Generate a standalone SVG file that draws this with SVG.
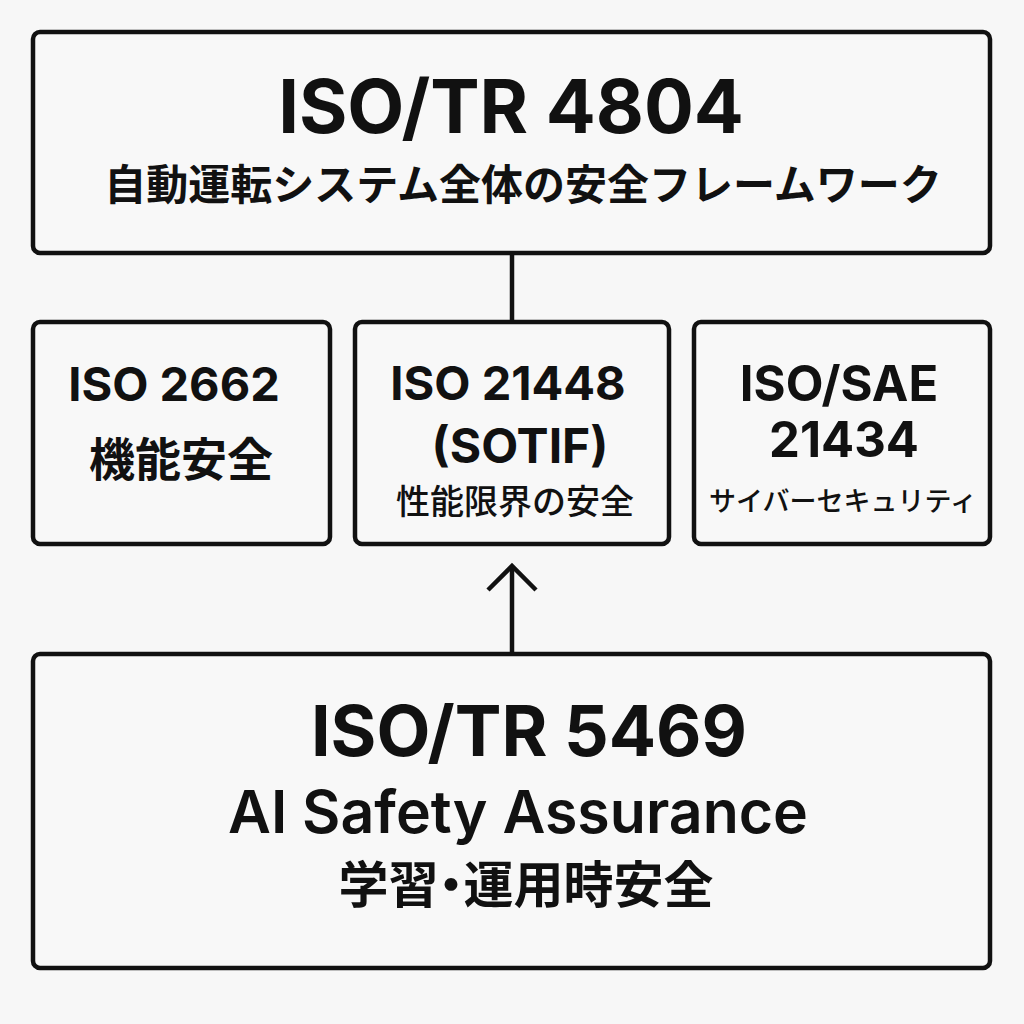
<svg xmlns="http://www.w3.org/2000/svg" width="1024" height="1024" viewBox="0 0 1024 1024">
<style>
.box{fill:#f8f8f8;stroke:#111;stroke-width:4.5}
.lat{font-family:Inter,"Liberation Sans","Noto Sans CJK JP",sans-serif;fill:#111;text-anchor:middle}
.jp{font-family:"Noto Sans CJK JP",sans-serif;fill:#111;text-anchor:middle}
.conn{stroke:#111;stroke-width:4.5;fill:none}
</style>
<rect width="1024" height="1024" fill="#f7f7f7"/>
<g id="connectors">
<line class="conn" x1="512" y1="253" x2="512" y2="322"/>
<line class="conn" x1="512" y1="654" x2="512" y2="566"/>
<polyline class="conn" points="488,590 512,566 536,590" stroke-linejoin="miter"/>
</g>
<g id="iso-tr-4804">
<rect class="box" x="33" y="32" width="957" height="221" rx="7"/>
<text class="lat" x="511" y="133" font-size="74" font-weight="700">ISO/TR 4804</text>
<text class="jp" x="523" y="200" font-size="42" font-weight="700">自動運転システム全体の安全フレームワーク</text>
</g>
<g id="iso-26262">
<rect class="box" x="33" y="322" width="297" height="222" rx="7"/>
<text class="lat" x="174" y="401" font-size="47" font-weight="700">ISO 2662</text>
<text class="jp" x="181" y="476" font-size="46" font-weight="700">機能安全</text>
</g>
<g id="iso-21448">
<rect class="box" x="355" y="322" width="314" height="222" rx="7"/>
<text class="lat" x="508" y="400" font-size="47" font-weight="700">ISO 21448</text>
<text class="lat" x="520" y="463" font-size="48" font-weight="700">(SOTIF)</text>
<text class="jp" x="515" y="514" font-size="34" font-weight="500">性能限界の安全</text>
</g>
<g id="iso-sae-21434">
<rect class="box" x="694" y="322" width="296" height="222" rx="7"/>
<text class="lat" x="839" y="401" font-size="49" font-weight="700">ISO/SAE</text>
<text class="lat" x="844" y="457" font-size="49" font-weight="700">21434</text>
<text class="jp" x="843" y="511" font-size="27" font-weight="500">サイバーセキュリティ</text>
</g>
<g id="iso-tr-5469">
<rect class="box" x="33" y="654" width="957" height="314" rx="7"/>
<text class="lat" x="529" y="756" font-size="70" font-weight="700">ISO/TR 5469</text>
<text class="lat" x="518" y="833" font-size="59" font-weight="600">AI Safety Assurance</text>
<text class="jp" x="526" y="903" font-size="50" font-weight="700" style="font-feature-settings:'palt'">学習・運用時安全</text>
</g>
</svg>
